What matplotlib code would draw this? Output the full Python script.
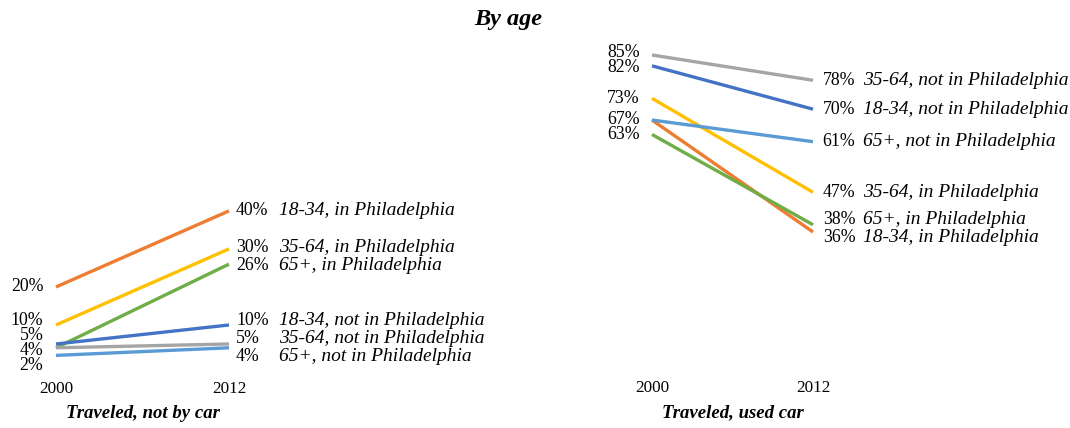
import matplotlib
matplotlib.use("Agg")
import matplotlib.pyplot as plt

plt.rcParams['font.family'] = ['Liberation Serif', 'DejaVu Serif']

years = ["2000", "2012"]
groups = ["18-34, in Philadelphia", "35-64, in Philadelphia", "65+, in Philadelphia",
          "18-34, not in Philadelphia", "35-64, not in Philadelphia", "65+, not in Philadelphia"]
colors = ["#ED7D31", "#FFC000", "#70AD47", "#4472C4", "#A5A5A5", "#5B9BD5"]

not_car_2000 = [20, 10, 4, 5, 4, 2]
not_car_2012 = [40, 30, 26, 10, 5, 4]
car_2000 = [67, 73, 63, 82, 85, 67]
car_2012 = [36, 47, 38, 70, 78, 61]

W, H = 1070, 428
fig = plt.figure(figsize=(W / 100, H / 100), dpi=100)


def spread(vals, gap):
    """Push label positions apart so neighbours are at least `gap` apart."""
    order = sorted(range(len(vals)), key=lambda i: vals[i])
    clusters = [[i] for i in order]
    pos = {i: vals[i] for i in order}
    changed = True
    while changed:
        changed = False
        for k in range(len(clusters) - 1):
            a, b = clusters[k], clusters[k + 1]
            if pos[b[0]] - pos[a[-1]] < gap - 1e-9:
                merged = a + b
                c = sum(vals[i] for i in merged) / len(merged)
                start = c - gap * (len(merged) - 1) / 2
                for j, i in enumerate(merged):
                    pos[i] = start + j * gap
                clusters[k:k + 2] = [merged]
                changed = True
                break
    return [pos[i] for i in range(len(vals))]


def panel(x_left_px, x_right_px, y0_px, ytop_px, ymax, v0, v1, title, pct_off):
    bottom = (H - y0_px) / H
    height = (y0_px - ytop_px) / H
    ax = fig.add_axes([x_left_px / W, bottom, (x_right_px - x_left_px) / W, height])
    ax.set_xlim(0, 1)
    ax.set_ylim(0, ymax)
    for s in ax.spines.values():
        s.set_visible(False)
    ax.set_yticks([])
    ax.set_xticks([0, 1])
    ax.set_xticklabels(years, fontsize=12.3)
    ax.tick_params(axis='x', length=0, pad=13)
    for a, b, c in zip(v0, v1, colors):
        ax.plot([0, 1], [a, b], color=c, lw=2.4, solid_capstyle='butt', clip_on=False)
    unit = ymax / (y0_px - ytop_px)
    uniq0 = sorted(set(v0))
    p0 = spread(uniq0, 15 * unit)
    for v, p in zip(uniq0, p0):
        ax.annotate(f"{v}%", (0, p), xytext=(-9, 0), textcoords='offset points',
                    ha='right', va='center', fontsize=12.8, annotation_clip=False)
    p1 = spread(list(v1), 18 * unit)
    for v, p, g in zip(v1, p1, groups):
        ax.annotate(f"{v}%", (1, p), xytext=(pct_off, 0), textcoords='offset points',
                    ha='left', va='center', fontsize=12.8, annotation_clip=False)
        ax.annotate(g, (1, p), xytext=(36, 0), textcoords='offset points',
                    ha='left', va='center', fontsize=14, style='italic',
                    annotation_clip=False)
    fig.text(((x_left_px + x_right_px) / 2) / W, 1 - 413 / H, title, ha='center',
             va='center', fontsize=13.5, style='italic', weight='bold')
    return ax


panel(56, 229, 363, 55, 81, not_car_2000, not_car_2012, "Traveled, not by car", 5)
panel(652, 813, 362, 55, 85, car_2000, car_2012, "Traveled, used car", 7)

fig.text(508 / W, 1 - 19 / H, "By age", ha='center', va='center', fontsize=17.5,
         style='italic', weight='bold')

fig.savefig("out.png", dpi=100)
